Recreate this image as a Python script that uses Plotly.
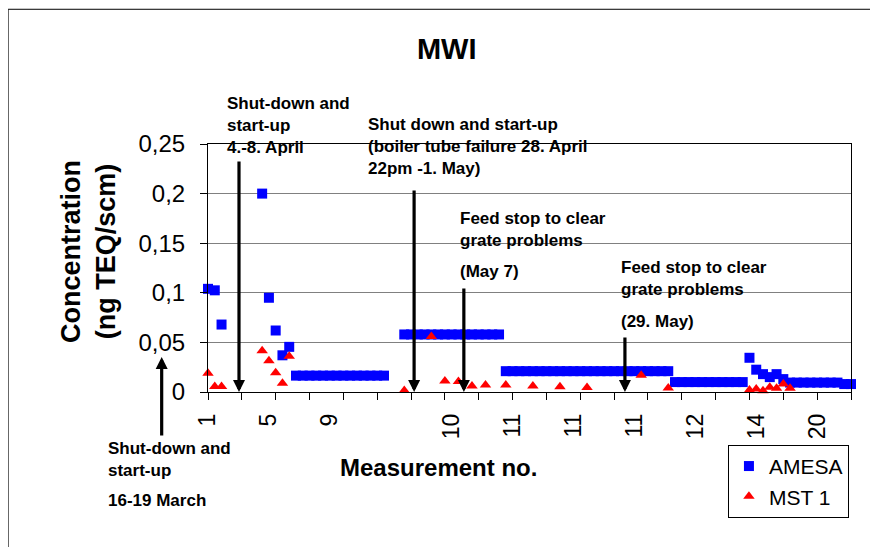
import plotly.graph_objects as go

# ---------------- data ----------------
n_categories = 96
categories = list(range(n_categories))

# AMESA (long-term sampling) value per measurement category (None = no value)
amesa = [
    0.104, 0.1025, 0.068, None, None, None, None, None,
    0.200, 0.095, 0.062, 0.037, 0.0455,
    0.0165, 0.0165, 0.0165, 0.0165, 0.0165, 0.0165, 0.0165,
    0.0165, 0.0165, 0.0165, 0.0165, 0.0165, 0.0165, 0.0165,
    None, None,
    0.058, 0.058, 0.058, 0.058, 0.058, 0.058, 0.058, 0.058,
    0.058, 0.058, 0.058, 0.058, 0.058, 0.058, 0.058,
    0.021, 0.021, 0.021, 0.021, 0.021, 0.021, 0.021, 0.021, 0.021,
    0.021, 0.021, 0.021, 0.021, 0.021, 0.021, 0.021, 0.021, 0.021,
    0.021, 0.021, 0.021, 0.021, 0.021, 0.021, 0.021,
    0.010, 0.010, 0.010, 0.010, 0.010, 0.010, 0.010, 0.010, 0.010,
    0.010, 0.010,
    0.0345, 0.0225, 0.018, 0.015, 0.018, 0.013,
    0.0095, 0.0095, 0.0095, 0.0095, 0.0095, 0.0095, 0.0095, 0.0095,
    0.008, 0.008,
]

# MST 1 (short-term sampling)
mst_cat = [0, 1, 2, 8, 9, 10, 11, 12, 29, 33, 35, 37, 39, 41, 44, 48, 52, 56,
           64, 68, 80, 81, 82, 83, 84, 85, 86]
mst_val = [0.019, 0.0055, 0.0055, 0.0415, 0.0315, 0.0195, 0.0087, 0.036,
           0.0015, 0.056, 0.011, 0.0105, 0.006, 0.007, 0.007, 0.006, 0.0053,
           0.0045, 0.017, 0.004, 0.002, 0.003, 0.0013, 0.0047, 0.0037, 0.008,
           0.0037]

x_label_pos = [0, 9, 18, 27, 36, 45, 54, 63, 72, 81, 90]
x_label_text = ["1", "5", "9", "", "10", "11", "11", "11", "12", "14", "20"]
x_tick_marks = [0, 5, 10, 15, 20, 25, 30, 35, 40, 45, 50, 55, 60, 65, 70, 75,
                80, 85, 90, 95]
y_tick_vals = [0, 0.05, 0.1, 0.15, 0.2, 0.25]
y_tick_text = ["0", "0,05", "0,1", "0,15", "0,2", "0,25"]

# event arrows: category position, tail height in pixels above axis
event_cat = [4.58, 30.45, 37.8, 61.6]
event_len = [232, 203, 105, 56]

# ---------------- layout helpers ----------------
W, H = 878, 547
OFF = 8  # page margin of the html body
# plot area in page pixels
PL, PR, PT, PB = 208.3, 851, 143.5, 392
FONT = "Liberation Sans, Arial, sans-serif"


def px(x):
    return (x - PL) / (PR - PL)


def py(y):
    return (PB - y) / (PB - PT)


fig = go.Figure()
fig.add_trace(go.Scatter(
    x=categories, y=amesa, mode="markers", name="AMESA",
    marker=dict(symbol="square", size=10, color="#0000FF", opacity=1,
                line=dict(width=0)),
    cliponaxis=False,
))
fig.add_trace(go.Scatter(
    x=mst_cat, y=mst_val, mode="markers", name="MST 1",
    marker=dict(symbol="triangle-up", size=10, color="#FF0000", opacity=1,
                line=dict(width=0)),
    cliponaxis=False,
))
# carrier trace for the label axis
fig.add_trace(go.Scatter(x=[0, 95], y=[None, None], xaxis="x2",
                         showlegend=False, hoverinfo="skip"))

annotations = []
# y axis title
annotations.append(dict(
    text="<b>Concentration<br>(ng TEQ/scm)</b>", textangle=-90,
    xref="paper", yref="paper", x=px(89), y=py(251),
    xanchor="center", yanchor="middle", showarrow=False,
    font=dict(family=FONT, size=27, color="black")))
# x axis title
annotations.append(dict(
    text="<b>Measurement no.</b>", xref="paper", yref="paper",
    x=px(439), y=py(468), xanchor="center", yanchor="middle",
    showarrow=False, font=dict(family=FONT, size=24, color="black")))

text_blocks = [
    (225, 125.3, "Shut-down and<br>start-up<br>4.-8. April"),
    (366, 146, "Shut down and start-up<br>(boiler tube failure 28. April<br>22pm -1. May)"),
    (458, 229, "Feed stop to clear<br>grate problems"),
    (458, 271, "(May 7)"),
    (619, 278.5, "Feed stop to clear<br>grate problems"),
    (619, 321, "(29. May)"),
    (106, 460, "Shut-down and<br>start-up"),
    (106, 501, "16-19 March"),
]
for x0, y0, t in text_blocks:
    annotations.append(dict(
        text="<b>" + t + "</b>", xref="paper", yref="paper",
        x=px(x0), y=py(y0), xanchor="left", yanchor="middle", align="left",
        showarrow=False, font=dict(family=FONT, size=17, color="black")))

for c, L in zip(event_cat, event_len):
    annotations.append(dict(
        text="", x=c, y=0, xref="x", yref="y", ax=0, ay=-L,
        showarrow=True, arrowhead=2, arrowsize=0.75, arrowwidth=3.2,
        arrowcolor="black"))
# upward arrow for March shut-down (outside plot)
annotations.append(dict(
    text="", x=px(162), y=py(357), xref="paper", yref="paper", ax=0, ay=80,
    showarrow=True, arrowhead=2, arrowsize=0.75, arrowwidth=3.2,
    arrowcolor="black"))

fig.update_layout(
    width=W, height=H, autosize=False,
    margin=dict(l=PL - OFF, r=W - (PR - OFF), t=PT - OFF, b=H - (PB - OFF),
                pad=0, autoexpand=False),
    paper_bgcolor="white", plot_bgcolor="white",
    font=dict(family=FONT, color="black"),
    title=dict(text="<b>MWI</b>", x=(446.7 - OFF) / W, xanchor="center",
               y=1 - (48.8 - OFF) / H, yanchor="middle",
               font=dict(family=FONT, size=29, color="black")),
    xaxis=dict(range=[0, 95], tickmode="array", tickvals=x_tick_marks,
               showticklabels=False, ticks="outside", ticklen=7,
               tickcolor="black", showline=True, linecolor="black",
               linewidth=1, mirror=True, showgrid=False, zeroline=False),
    xaxis2=dict(range=[0, 95], overlaying="x", anchor="y", side="bottom",
                tickmode="array", tickvals=x_label_pos,
                ticktext=x_label_text, tickangle=-90, ticks="",
                ticklabelstandoff=16, showline=False, showgrid=False,
                zeroline=False,
                tickfont=dict(family=FONT, size=23, color="black")),
    yaxis=dict(range=[0, 0.25], tickmode="array", tickvals=y_tick_vals,
               ticktext=y_tick_text, ticks="outside", ticklen=7,
               tickcolor="black", ticklabelstandoff=10,
               showline=True, linecolor="black", linewidth=1, mirror=True,
               showgrid=True, gridcolor="#808080", gridwidth=1,
               zeroline=False,
               tickfont=dict(family=FONT, size=24, color="black")),
    legend=dict(x=px(728), y=py(445), xanchor="left", yanchor="top",
                bordercolor="black", borderwidth=1, bgcolor="white",
                font=dict(family=FONT, size=21, color="black"),
                tracegroupgap=0),
    annotations=annotations,
    shapes=[dict(type="rect", xref="paper", yref="paper",
                 x0=px(OFF + 0.5), x1=px(W + 20), y0=py(OFF + 0.5),
                 y1=py(H + 20),
                 line=dict(color="black", width=1), layer="below")],
    showlegend=True,
)

fig.write_html("out.html")
